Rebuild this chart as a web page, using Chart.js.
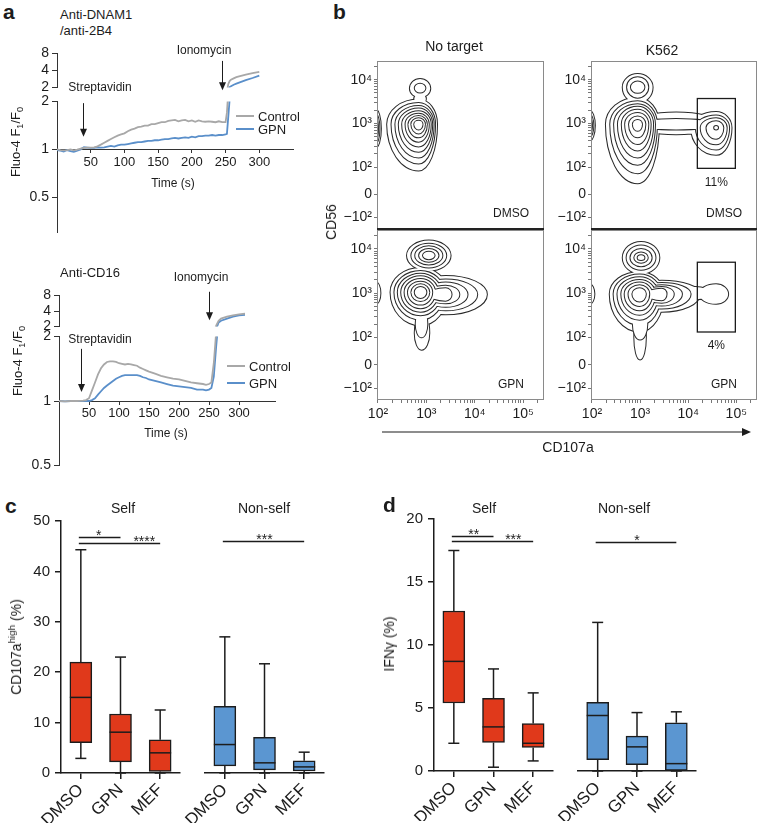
<!DOCTYPE html>
<html>
<head>
<meta charset="utf-8">
<script src="https://cdn.jsdelivr.net/npm/chart.js@4.4.1/dist/chart.umd.min.js"></script>
<style>
  body { margin: 0; width: 759px; height: 823px; position: relative; overflow: hidden; background: #fff;
         font-family: "Liberation Sans", Arial, sans-serif; color: #1c1c1c; }
  canvas { position: absolute; }
  .t { position: absolute; white-space: nowrap; line-height: 1; }
  .t sub, .t sup { font-size: 70%; line-height: 0; }
  .leg { position: absolute; height: 2px; }
</style>
</head>
<body>
<svg style="position:absolute;left:378px;top:426px" width="378" height="12">
  <line x1="4" y1="6" x2="366" y2="6" stroke="#1c1c1c" stroke-width="1.2"/>
  <polygon points="364,2 373,6 364,10" fill="#1c1c1c"/>
</svg>
<script>
// ---------- data ----------
// a: Fluo-4 F1/F0, anti-DNAM1/anti-2B4 crosslinking
const dnamTime = [0, 5, 10, 15, 20, 25, 30, 35, 40, 45,
                  50, 55, 60, 65, 70, 75, 80, 85, 90, 95,
                  100, 105, 110, 115, 120, 125, 130, 135, 140, 145,
                  150, 155, 160, 165, 170, 175, 180, 185, 190, 195,
                  200, 205, 210, 215, 220, 225, 230, 235, 240, 245,
                  250, 252, 254, 256, 258, 262, 266, 270, 280, 290, 300];
const dnamControl = [1.00, 0.99, 0.985, 0.99, 1.0, 0.985, 0.995, 1.01, 1.02, 1.025,
                     1.025, 1.03, 1.045, 1.07, 1.1, 1.13, 1.16, 1.19, 1.22, 1.24,
                     1.26, 1.3, 1.33, 1.35, 1.38, 1.39, 1.41, 1.41, 1.44, 1.44,
                     1.46, 1.48, 1.48, 1.51, 1.52, 1.53, 1.5, 1.52, 1.53, 1.5,
                     1.52, 1.49, 1.52, 1.5, 1.49, 1.5, 1.49, 1.48, 1.5, 1.48,
                     1.48, 1.7, 2.3, 2.6, 2.75, 2.9, 3.05, 3.15, 3.4, 3.6, 3.8];
const dnamGpn = [0.99, 0.98, 0.97, 0.99, 0.975, 0.965, 0.98, 1.0, 1.03, 1.025,
                 1.02, 1.02, 1.03, 1.025, 1.03, 1.04, 1.05, 1.04, 1.06, 1.07,
                 1.07, 1.08, 1.09, 1.1, 1.11, 1.11, 1.12, 1.13, 1.13, 1.14,
                 1.14, 1.15, 1.16, 1.16, 1.17, 1.18, 1.17, 1.18, 1.19, 1.18,
                 1.2, 1.19, 1.21, 1.21, 1.22, 1.22, 1.23, 1.22, 1.23, 1.23,
                 1.24, 1.25, 1.6, 2.05, 2.12, 2.25, 2.35, 2.45, 2.7, 2.95, 3.25];

// a: anti-CD16 crosslinking
const cd16Time = [0, 10, 20, 30, 40, 45, 50, 55, 60, 65,
                  70, 75, 80, 85, 90, 95, 100, 105, 110, 115,
                  120, 125, 130, 135, 140, 145, 150, 160, 170, 180,
                  190, 200, 210, 220, 230, 240, 245, 250, 254, 258,
                  262, 266, 270, 280, 290, 300, 310];
const cd16Control = [1.0, 0.995, 1.0, 1.0, 1.005, 1.01, 1.03, 1.12, 1.22, 1.33,
                     1.42, 1.48, 1.52, 1.53, 1.53, 1.52, 1.5, 1.49, 1.48, 1.49,
                     1.48, 1.47, 1.46, 1.43, 1.41, 1.39, 1.37, 1.34, 1.31, 1.29,
                     1.27, 1.26, 1.24, 1.22, 1.21, 1.2, 1.19, 1.2, 1.22, 1.5,
                     2.1, 2.6, 2.85, 3.1, 3.3, 3.45, 3.55];
const cd16Gpn = [1.0, 0.995, 1.0, 1.0, 1.0, 1.0, 1.0, 1.01, 1.03, 1.07,
                 1.11, 1.15, 1.18, 1.21, 1.24, 1.27, 1.29, 1.31, 1.32, 1.32,
                 1.32, 1.32, 1.32, 1.31, 1.29, 1.28, 1.26, 1.24, 1.22, 1.2,
                 1.18, 1.17, 1.16, 1.15, 1.13, 1.13, 1.12, 1.13, 1.15, 1.3,
                 1.8, 2.4, 2.6, 2.85, 3.1, 3.3, 3.38];

const timeTicks = [50, 100, 150, 200, 250, 300];
const ratioTicksLow = [0.5, 1, 2];
const ratioTicksHigh = [2, 4, 8];

// b: contour rings [level, centre CD107a, centre CD56, left, right, up, down] in decades
const ntDmsoRings = [
  [1, 2.84, 2.98, .65, .38, .57, 1.06], [2, 2.84, 2.98, .56, .34, .49, .90],
  [3, 2.84, 2.98, .48, .31, .42, .76], [4, 2.84, 2.98, .41, .28, .36, .63],
  [5, 2.84, 2.98, .34, .25, .30, .51], [6, 2.84, 2.98, .27, .21, .24, .40],
  [7, 2.84, 2.98, .21, .17, .19, .30], [8, 2.84, 2.98, .15, .13, .14, .21],
  [9, 2.84, 2.98, .09, .08, .08, .12],
  [1, 2.87, 3.80, .21, .21, .22, .20], [1, 2.87, 3.56, .12, .12, .12, .12],
  [2, 2.87, 3.81, .11, .11, .10, .10],
  [1, 1.94, 2.88, .10, .12, .45, .45], [2, 1.94, 2.88, .07, .09, .35, .35], [3, 1.94, 2.88, .05, .06, .25, .25]
];
const k562DmsoRings = [
  [1, 2.95, 2.98, .66, .44, .61, 1.35], [2, 2.95, 2.98, .57, .40, .53, 1.12],
  [3, 2.95, 2.98, .49, .36, .46, .93], [4, 2.95, 2.98, .41, .32, .40, .76],
  [5, 2.95, 2.98, .33, .27, .33, .60], [6, 2.95, 2.98, .26, .22, .26, .45],
  [7, 2.95, 2.98, .18, .16, .18, .30], [8, 2.95, 2.98, .10, .09, .10, .15],
  [1, 2.95, 3.83, .31, .31, .30, .36], [2, 2.95, 3.83, .22, .22, .23, .24], [3, 2.95, 3.83, .14, .14, .13, .13],
  [1, 4.58, 2.90, .52, .32, .36, .62], [2, 4.58, 2.90, .42, .27, .28, .50], [3, 4.58, 2.90, .32, .22, .22, .38],
  [4, 4.58, 2.90, .20, .15, .15, .25], [5, 4.58, 2.90, .04, .04, .04, .04],
  [1, 3.75, 3.00, .85, .85, .25, .25], [2, 3.75, 2.98, .80, .80, .12, .12],
  [1, 1.94, 2.95, .10, .12, .35, .35], [2, 1.94, 2.95, .07, .09, .26, .26], [3, 1.94, 2.95, .05, .06, .18, .18]
];
const ntGpnRings = [
  [1, 2.88, 3.02, .62, .55, .55, .75], [2, 2.88, 3.02, .54, .48, .48, .62],
  [3, 2.88, 3.02, .47, .42, .42, .52], [4, 2.88, 3.02, .40, .36, .36, .44],
  [5, 2.88, 3.02, .33, .30, .30, .36], [6, 2.88, 3.02, .26, .24, .24, .28],
  [7, 2.88, 3.02, .19, .18, .18, .20], [8, 2.88, 3.02, .12, .12, .12, .13],
  [1, 3.40, 2.97, .50, .85, .42, .45], [2, 3.40, 2.97, .50, .65, .34, .36],
  [3, 3.40, 2.97, .45, .45, .27, .28], [4, 3.40, 2.97, .40, .28, .20, .20],
  [5, 3.40, 2.97, .35, .12, .14, .14],
  [1, 2.90, 2.10, .14, .16, .50, .38], [2, 2.90, 2.30, .12, .12, .40, .30],
  [1, 3.05, 3.85, .45, .45, .34, .34], [2, 3.05, 3.85, .36, .36, .27, .27],
  [3, 3.05, 3.85, .28, .28, .21, .20], [4, 3.05, 3.85, .20, .20, .15, .14],
  [5, 3.05, 3.85, .12, .12, .09, .08],
  [1, 1.95, 3.00, .08, .10, .25, .25]
];
const k562GpnRings = [
  [1, 2.99, 2.98, .62, .50, .50, .85], [2, 2.99, 2.98, .54, .44, .44, .70],
  [3, 2.99, 2.98, .46, .38, .38, .58], [4, 2.99, 2.98, .38, .32, .32, .47],
  [5, 2.99, 2.98, .31, .26, .26, .37], [6, 2.99, 2.98, .23, .20, .20, .27],
  [7, 2.99, 2.98, .15, .13, .13, .17],
  [1, 3.45, 2.98, .45, .80, .30, .40], [2, 3.45, 2.98, .45, .60, .25, .33],
  [3, 3.45, 2.98, .40, .42, .20, .26], [4, 3.45, 2.98, .35, .25, .16, .20],
  [5, 3.45, 2.98, .30, .10, .12, .14],
  [1, 3.00, 2.00, .12, .12, .60, .50], [2, 3.00, 2.30, .15, .15, .40, .35],
  [1, 4.58, 2.98, .35, .25, .22, .22], [1, 4.15, 3.00, .50, .30, .14, .14],
  [1, 3.02, 3.80, .38, .38, .36, .36], [2, 3.02, 3.80, .30, .30, .28, .27],
  [3, 3.02, 3.80, .22, .22, .20, .19], [4, 3.02, 3.80, .14, .14, .12, .11],
  [5, 3.02, 3.80, .07, .07, .06, .05],
  [1, 1.95, 2.98, .08, .10, .22, .22]
];
// CD107a-high gates [x0, x1, y0, y1] and their frequencies
const k562DmsoGate = [4.19, 4.98, 1.97, 3.57];
const k562GpnGate = [4.19, 4.98, 2.12, 3.70];
const gateLabels = ['11%', '4%'];

const flowXTicks = [2, 3, 4, 5];
const flowXLabels = ['10²', '10³', '10⁴', '10⁵'];
const flowYTicks = [0.85, 1.38, 2, 3, 4];
const flowYLabels = ['−10²', '0', '10²', '10³', '10⁴'];

// c, d: box plots (min, q1, median, q3, max)
const boxCats = ['DMSO', 'GPN', 'MEF'];
const cSelf = { min: [2.9, 0, 0], q1: [6.0, 2.2, 0.3], med: [15.0, 8.1, 4.0], q3: [22.0, 11.7, 6.6], max: [44.3, 23.0, 12.5] };
const cNonSelf = { min: [0, 0, 0], q1: [1.4, 0.6, 0.4], med: [5.6, 2.0, 1.2], q3: [13.1, 7.0, 2.4], max: [26.8, 21.5, 4.1] };
const dSelf = { min: [2.2, 0.3, 0.8], q1: [5.4, 2.26, 1.87], med: [8.7, 3.5, 2.2], q3: [12.7, 5.76, 3.76], max: [17.5, 8.1, 6.2] };
const dNonSelf = { min: [0, 0, 0], q1: [0.9, 0.5, 0.05], med: [4.37, 1.9, 0.58], q3: [5.4, 2.74, 3.8], max: [11.7, 4.6, 4.66] };
// significance bars: from/to category, label at, level, stars
const cSelfSig = [{ from: 0, to: 1, at: 0.45, y: 46.9, text: '*' }, { from: 0, to: 2, at: 1.6, y: 45.7, text: '****' }];
const cNonSelfSig = [{ from: 0, to: 2, at: 1, y: 45.7, text: '***' }];
const dSelfSig = [{ from: 0, to: 1, at: 0.5, y: 18.66, text: '**' }, { from: 0, to: 2, at: 1.5, y: 18.26, text: '***' }];
const dNonSelfSig = [{ from: 0, to: 2, at: 1, y: 18.07, text: '*' }];

// ---------- helpers ----------
Chart.defaults.font.family = '"Liberation Sans", Arial, sans-serif';
Chart.defaults.color = '#1c1c1c';
const GREY = '#a8a8a8', BLUE = '#5a8fca', RED = '#e0391b', LBLUE = '#5b96d1', INK = '#1c1c1c';

function text(html, x, y, size, anchor, extra) {
  const d = document.createElement('div');
  d.className = 't';
  d.innerHTML = html;
  d.style.fontSize = size + 'px';
  d.style.left = x + 'px';
  d.style.top = y + 'px';
  const tx = anchor === 'left' ? '0' : anchor === 'right' ? '-100%' : '-50%';
  d.style.transform = 'translate(' + tx + ',-50%)' + (extra || '');
  document.body.appendChild(d);
  return d;
}

// canvas whose chart area lands on the given page box
function makeCanvas(area, o) {
  const c = document.createElement('canvas');
  const w = o.pl + o.yw + (area.r - area.l) + o.pr;
  const h = o.pt + (area.b - area.t) + o.xh + o.pb;
  c.width = w; c.height = h;
  c.style.width = w + 'px'; c.style.height = h + 'px';
  c.style.left = (area.l - o.yw - o.pl) + 'px';
  c.style.top = (area.t - o.pt) + 'px';
  document.body.appendChild(c);
  return c;
}

function baseOptions(o) {
  return {
    responsive: false, animation: false, devicePixelRatio: 1, events: [],
    layout: { padding: { left: o.pl, right: o.pr, top: o.pt, bottom: o.pb } },
    plugins: { legend: { display: false }, tooltip: { enabled: false } }
  };
}

function points(xs, ys) { return xs.map((x, i) => ({ x: x, y: ys[i] })); }

function drawArrow(ctx, x, y0, y1) {
  ctx.save();
  ctx.strokeStyle = INK; ctx.fillStyle = INK; ctx.lineWidth = 1;
  ctx.beginPath(); ctx.moveTo(x, y0); ctx.lineTo(x, y1 - 6); ctx.stroke();
  ctx.beginPath(); ctx.moveTo(x - 3.5, y1 - 8); ctx.lineTo(x + 3.5, y1 - 8); ctx.lineTo(x, y1); ctx.closePath(); ctx.fill();
  ctx.restore();
}

const arrowPlugin = {
  id: 'arrows',
  afterDraw(chart) {
    const list = chart.options.plugins.arrows || [];
    const { x, y } = chart.scales;
    list.forEach(a => drawArrow(chart.ctx, Math.round(x.getPixelForValue(a.t)) + 0.5, y.getPixelForValue(a.from), y.getPixelForValue(a.to)));
  }
};

// ---------- panel a ----------
function traceCharts(time, control, gpn, hi, lo, loMin, xMax, arrowsHi, arrowsLo) {
  const series = [
    { data: points(time, control), borderColor: GREY, borderWidth: 1.8, pointRadius: 0, tension: 0 },
    { data: points(time, gpn), borderColor: BLUE, borderWidth: 1.8, pointRadius: 0, tension: 0 }
  ];
  const yCommon = {
    grid: { display: true, drawOnChartArea: false, tickLength: 5, color: '#333' },
    border: { color: '#333', width: 1 },
    ticks: { font: { size: 14 }, padding: 3, autoSkip: false, color: INK }
  };
  const oHi = { yw: 30, xh: 0, pl: 0, pt: 10, pr: 10, pb: 10 };
  const optHi = baseOptions(oHi);
  optHi.plugins.arrows = arrowsHi;
  optHi.scales = {
    x: { type: 'linear', min: 0, max: xMax, display: false },
    y: Object.assign({}, yCommon, {
      type: 'logarithmic', min: 2, max: 8,
      afterBuildTicks: s => { s.ticks = ratioTicksHigh.map(v => ({ value: v })); },
      ticks: Object.assign({}, yCommon.ticks, { callback: (v, i) => String(ratioTicksHigh[i]) }),
      afterFit: s => { s.width = oHi.yw; }
    })
  };
  new Chart(makeCanvas(hi, oHi), { type: 'line', data: { datasets: series.map(d => Object.assign({}, d)) }, options: optHi, plugins: [arrowPlugin] });

  const oLo = { yw: 30, xh: 0, pl: 0, pt: 10, pr: 14, pb: 10 };
  const optLo = baseOptions(oLo);
  optLo.plugins.arrows = arrowsLo;
  optLo.scales = {
    x: {
      type: 'linear', min: 0, max: xMax, position: { y: 1 },
      afterBuildTicks: s => { s.ticks = timeTicks.map(v => ({ value: v })); },
      grid: { display: true, drawOnChartArea: false, tickLength: 3, color: '#333' },
      border: { color: '#333', width: 1 },
      ticks: { font: { size: 13 }, padding: 2, color: INK, autoSkip: false, maxRotation: 0 }
    },
    y: Object.assign({}, yCommon, {
      type: 'logarithmic', min: loMin, max: 2,
      afterBuildTicks: s => { s.ticks = ratioTicksLow.map(v => ({ value: Math.max(v, s.min) })); },
      ticks: Object.assign({}, yCommon.ticks, { callback: (v, i) => String(ratioTicksLow[i]) }),
      afterFit: s => { s.width = oLo.yw; }
    })
  };
  new Chart(makeCanvas(lo, oLo), { type: 'line', data: { datasets: series }, options: optLo, plugins: [arrowPlugin] });
}

traceCharts(dnamTime, dnamControl, dnamGpn,
  { l: 57, t: 52, r: 293, b: 89 }, { l: 57, t: 100, r: 293, b: 234 }, 0.312, 350,
  [{ t: 245, from: 5.9, to: 1.8 }], [{ t: 38, from: 1.95, to: 1.2 }]);
traceCharts(cd16Time, cd16Control, cd16Gpn,
  { l: 59, t: 294, r: 275, b: 328 }, { l: 59, t: 335, r: 275, b: 467 }, 0.5, 360,
  [{ t: 250, from: 9.4, to: 2.66 }], [{ t: 37, from: 1.75, to: 1.1 }]);

text('<b>a</b>', 3, 11, 21, 'left');
text('Anti-DNAM1', 60, 14, 13, 'left');
text('/anti-2B4', 60, 30, 13, 'left');
text('Ionomycin', 204, 50, 12, 'center');
text('Streptavidin', 100, 87, 12, 'center');
text('Time (s)', 173, 183, 12, 'center');
text('Fluo-4 F<sub>1</sub>/F<sub>0</sub>', 15, 142, 13, 'center', ' rotate(-90deg)');
text('Anti-CD16', 60, 272, 13, 'left');
text('Ionomycin', 201, 277, 12, 'center');
text('Streptavidin', 100, 339, 12, 'center');
text('Time (s)', 166, 433, 12, 'center');
text('Fluo-4 F<sub>1</sub>/F<sub>0</sub>', 17, 361, 13, 'center', ' rotate(-90deg)');

function legend(x, y1, y2) {
  [[y1, GREY, 'Control'], [y2, BLUE, 'GPN']].forEach(([y, col, name]) => {
    const l = document.createElement('div');
    l.className = 'leg';
    l.style.left = x + 'px'; l.style.top = (y - 1) + 'px'; l.style.width = '18px'; l.style.background = col;
    document.body.appendChild(l);
    text(name, x + 22, y, 13, 'left');
  });
}
legend(236, 116, 129);
legend(227, 366, 383);

// ---------- panel b ----------
function ringPath(path, r, xs, ys) {
  const [, cx, cy, l, rt, up, dn] = r;
  const px = xs.getPixelForValue(cx), py = ys.getPixelForValue(cy);
  const rr = xs.getPixelForValue(cx + rt) - px, rl = px - xs.getPixelForValue(cx - l);
  const ru = py - ys.getPixelForValue(cy + up), rd = ys.getPixelForValue(cy - dn) - py;
  path.moveTo(px + rr, py);
  path.ellipse(px, py, rr, rd, 0, 0, Math.PI / 2);
  path.ellipse(px, py, rl, rd, 0, Math.PI / 2, Math.PI);
  path.ellipse(px, py, rl, ru, 0, Math.PI, 1.5 * Math.PI);
  path.ellipse(px, py, rr, ru, 0, 1.5 * Math.PI, 2 * Math.PI);
  path.closePath();
}

const flowPlugin = {
  id: 'flow',
  beforeDatasetsDraw(chart) {
    const f = chart.options.plugins.flow;
    const { ctx, chartArea: a, scales: { x, y } } = chart;
    ctx.save();
    ctx.beginPath(); ctx.rect(a.left, a.top, a.width, a.height); ctx.clip();
    const top = Math.max(...f.rings.map(r => r[0]));
    for (let lv = 1; lv <= top; lv++) {
      const p = new Path2D();
      f.rings.filter(r => r[0] === lv).forEach(r => ringPath(p, r, x, y));
      ctx.lineWidth = 2; ctx.strokeStyle = '#2a2a2a'; ctx.stroke(p);
      ctx.fillStyle = '#fff'; ctx.fill(p);
    }
    ctx.restore();
  },
  afterDraw(chart) {
    const f = chart.options.plugins.flow;
    const { ctx, chartArea: a, scales: { x, y } } = chart;
    ctx.save();
    ctx.strokeStyle = '#8a8a8a'; ctx.lineWidth = 1;
    ctx.strokeRect(a.left + 0.5, a.top + 0.5, a.width - 1, a.height - 1);
    if (f.topRow) {
      ctx.strokeStyle = '#222'; ctx.lineWidth = 2;
      ctx.beginPath(); ctx.moveTo(a.left, a.bottom); ctx.lineTo(a.right, a.bottom); ctx.stroke();
    }
    ctx.fillStyle = INK; ctx.font = '12px "Liberation Sans", Arial, sans-serif';
    ctx.textAlign = 'center'; ctx.textBaseline = 'middle';
    ctx.fillText(f.tag, a.right - 33, a.bottom - 15);
    if (f.gate) {
      const g = f.gate;
      const x0 = x.getPixelForValue(g[0]), x1 = x.getPixelForValue(g[1]);
      const y0 = y.getPixelForValue(g[2]), y1 = y.getPixelForValue(g[3]);
      ctx.strokeStyle = INK; ctx.lineWidth = 1.3;
      ctx.strokeRect(x0, y1, x1 - x0, y0 - y1);
      ctx.fillText(f.gateLabel, (x0 + x1) / 2, y0 + 14);
    }
    ctx.restore();
  }
};

function logTicks(majors, labels, lo, hi) {
  const t = majors.map((v, i) => ({ value: v, txt: labels[i] }));
  for (let n = 2; n <= 5; n++) {
    for (let k = 2; k <= 9; k++) {
      const v = n + Math.log10(k);
      if (v > lo && v < hi) t.push({ value: v, txt: '' });
    }
  }
  return t.sort((p, q) => p.value - q.value);
}

function flowChart(area, showX, rings, tag, topRow, gate, gateLabel) {
  const o = { yw: 40, xh: showX ? 24 : 0, pl: 0, pt: 12, pr: 14, pb: showX ? 0 : 12 };
  const opt = baseOptions(o);
  opt.plugins.flow = { rings: rings, tag: tag, topRow: topRow, gate: gate, gateLabel: gateLabel };
  const axisStyle = {
    grid: { display: true, drawOnChartArea: false, tickLength: 3, color: '#777' },
    border: { display: false }
  };
  opt.scales = {
    x: Object.assign({}, axisStyle, {
      type: 'linear', min: 1.98, max: 5.43, display: showX,
      afterBuildTicks: s => { s.ticks = logTicks(flowXTicks, flowXLabels, 1.98, 5.43); },
      ticks: { font: { size: 14 }, padding: 3, autoSkip: false, maxRotation: 0, color: INK, callback: (v, i, t) => t[i].txt },
      afterFit: s => { s.height = o.xh; }
    }),
    y: Object.assign({}, axisStyle, {
      type: 'linear', min: 0.58, max: 4.43,
      afterBuildTicks: s => { s.ticks = logTicks(flowYTicks, flowYLabels, 1.99, 4.43); },
      ticks: { font: { size: 14 }, padding: 2, autoSkip: false, color: INK, callback: (v, i, t) => t[i].txt },
      afterFit: s => { s.width = o.yw; }
    })
  };
  new Chart(makeCanvas(area, o), { type: 'scatter', data: { datasets: [] }, options: opt, plugins: [flowPlugin] });
}

flowChart({ l: 377, t: 61, r: 544, b: 229 }, false, ntDmsoRings, 'DMSO', true);
flowChart({ l: 591, t: 61, r: 757, b: 229 }, false, k562DmsoRings, 'DMSO', true, k562DmsoGate, gateLabels[0]);
flowChart({ l: 377, t: 230, r: 544, b: 400 }, true, ntGpnRings, 'GPN', false);
flowChart({ l: 591, t: 230, r: 757, b: 400 }, true, k562GpnRings, 'GPN', false, k562GpnGate, gateLabels[1]);

text('<b>b</b>', 333, 11, 21, 'left');
text('No target', 454, 46, 14, 'center');
text('K562', 662, 50, 14, 'center');
text('CD56', 331, 222, 14, 'center', ' rotate(-90deg)');
text('CD107a', 568, 447, 14, 'center');

// ---------- panels c, d ----------
const boxPlugin = {
  id: 'boxes',
  afterDatasetsDraw(chart) {
    const b = chart.options.plugins.boxes;
    const { ctx, scales: { x, y } } = chart;
    const seg = (x0, y0, x1, y1) => { ctx.beginPath(); ctx.moveTo(x0, y0); ctx.lineTo(x1, y1); ctx.stroke(); };
    ctx.save();
    ctx.strokeStyle = INK; ctx.lineWidth = 1.5;
    b.stats.med.forEach((m, i) => {
      const cx = x.getPixelForValue(i);
      const s = b.stats;
      seg(cx - 11, y.getPixelForValue(m), cx + 11, y.getPixelForValue(m));
      seg(cx, y.getPixelForValue(s.q3[i]), cx, y.getPixelForValue(s.max[i]));
      seg(cx - 5.5, y.getPixelForValue(s.max[i]), cx + 5.5, y.getPixelForValue(s.max[i]));
      seg(cx, y.getPixelForValue(s.q1[i]), cx, y.getPixelForValue(s.min[i]));
      seg(cx - 5.5, y.getPixelForValue(s.min[i]), cx + 5.5, y.getPixelForValue(s.min[i]));
    });
    ctx.fillStyle = INK; ctx.font = '14px "Liberation Sans", Arial, sans-serif';
    ctx.textAlign = 'center'; ctx.textBaseline = 'alphabetic';
    ctx.lineWidth = 1.3;
    b.sig.forEach(g => {
      const yy = Math.round(y.getPixelForValue(g.y)) + 0.5;
      seg(x.getPixelForValue(g.from) - 2, yy, x.getPixelForValue(g.to), yy);
      ctx.fillText(g.text, x.getPixelForValue(g.at), yy + 2);
    });
    ctx.restore();
  }
};

function boxChart(area, showY, stats, fill, sig, yMax, yStep) {
  const o = showY ? { yw: 44, xh: 50, pl: 0, pt: 12, pr: 10, pb: 0 } : { yw: 0, xh: 50, pl: 30, pt: 12, pr: 10, pb: 0 };
  const opt = baseOptions(o);
  opt.plugins.boxes = { stats: stats, sig: sig };
  opt.scales = {
    x: {
      grid: { display: true, offset: false, drawOnChartArea: false, tickLength: 6, color: INK, lineWidth: 1.5 },
      border: { color: INK, width: 1.5 },
      ticks: { minRotation: 45, maxRotation: 45, autoSkip: false, font: { size: 17 }, color: INK, padding: 1 },
      afterFit: s => { s.height = o.xh; }
    },
    y: {
      display: showY, min: 0, max: yMax,
      grid: { display: true, drawOnChartArea: false, tickLength: 6, color: INK, lineWidth: 1.5 },
      border: { color: INK, width: 1.5 },
      ticks: { stepSize: yStep, font: { size: 15 }, padding: 5, color: INK },
      afterFit: s => { s.width = o.yw; }
    }
  };
  new Chart(makeCanvas(area, o), {
    type: 'bar',
    data: {
      labels: boxCats,
      datasets: [{
        data: stats.q1.map((v, i) => [v, stats.q3[i]]),
        backgroundColor: fill, borderColor: INK, borderWidth: 1.5, borderSkipped: false, barThickness: 22
      }]
    },
    options: opt,
    plugins: [boxPlugin]
  });
}

boxChart({ l: 61, t: 519, r: 180, b: 773 }, true, cSelf, RED, cSelfSig, 50, 10);
boxChart({ l: 205, t: 519, r: 324, b: 773 }, false, cNonSelf, LBLUE, cNonSelfSig, 50, 10);
boxChart({ l: 434, t: 517, r: 553, b: 771 }, true, dSelf, RED, dSelfSig, 20, 5);
boxChart({ l: 578, t: 517, r: 696, b: 771 }, false, dNonSelf, LBLUE, dNonSelfSig, 20, 5);

text('<b>c</b>', 5, 505, 21, 'left');
text('Self', 123, 508, 14, 'center');
text('Non-self', 264, 508, 14, 'center');
text('CD107a<sup>high</sup> (%)', 16, 647, 14, 'center', ' rotate(-90deg)');
text('<b>d</b>', 383, 504, 21, 'left');
text('Self', 484, 508, 14, 'center');
text('Non-self', 624, 508, 14, 'center');
text('IFNγ (%)', 389, 644, 14, 'center', ' rotate(-90deg)');
</script>
</body>
</html>
